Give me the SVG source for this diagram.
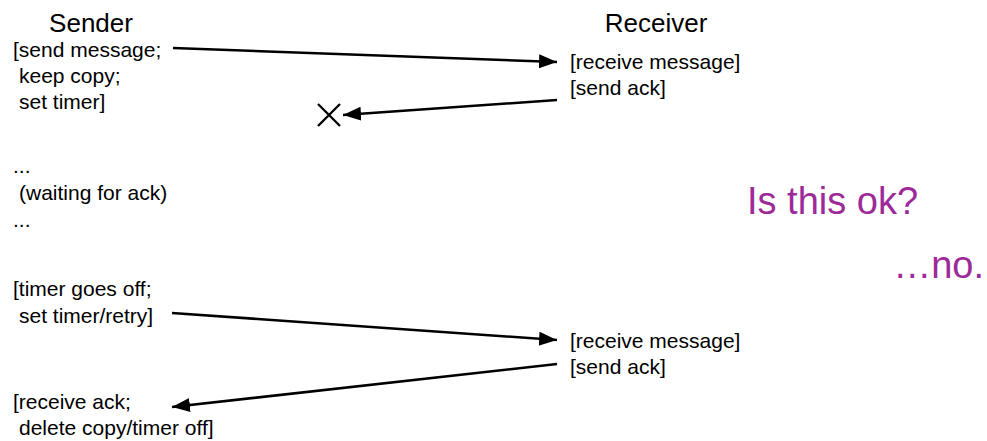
<svg xmlns="http://www.w3.org/2000/svg" width="987" height="441" viewBox="0 0 987 441">
<style>
text { font-family: "Liberation Sans", Arial, Helvetica, sans-serif; fill: #000; }
.title { font-size: 26px; text-anchor: middle; }
.body { font-size: 21px; }
.note { font-size: 38px; fill: #9C2A98; }
.conn { stroke: #000; stroke-width: 2.6; fill: none; }
</style>
<defs>
<marker id="arrow" markerUnits="userSpaceOnUse" markerWidth="19" markerHeight="15" refX="18" refY="7" orient="auto">
<path d="M0,0 L18,7 L0,14 Z" fill="#000"/>
</marker>
</defs>
<rect width="987" height="441" fill="#fff"/>
<g id="sender-title"><text class="title" x="91" y="32">Sender</text></g>
<g id="receiver-title"><text class="title" x="656" y="32">Receiver</text></g>
<g id="send1">
<text class="body" x="13" y="57">[send message;</text>
<text class="body" x="19" y="83">keep copy;</text>
<text class="body" x="19" y="109">set timer]</text>
</g>
<g id="recv1">
<text class="body" x="570" y="69">[receive message]</text>
<text class="body" x="570" y="95">[send ack]</text>
</g>
<g id="lost">
<path d="M318,104 L340,126 M340,104 L318,126" stroke="#000" stroke-width="2.3" fill="none"/>
</g>
<g id="waiting">
<text class="body" x="13" y="173">...</text>
<text class="body" x="19" y="200">(waiting for ack)</text>
<text class="body" x="13" y="227">...</text>
</g>
<g id="question">
<text class="note" x="747" y="214">Is this ok?</text>
<text class="note" x="984" y="278" text-anchor="end">…no.</text>
</g>
<g id="send2">
<text class="body" x="13" y="296">[timer goes off;</text>
<text class="body" x="19" y="323">set timer/retry]</text>
</g>
<g id="recv2">
<text class="body" x="570" y="348">[receive message]</text>
<text class="body" x="570" y="374">[send ack]</text>
</g>
<g id="ack2">
<text class="body" x="13" y="409">[receive ack;</text>
<text class="body" x="19" y="435">delete copy/timer off]</text>
</g>
<g id="connectors">
<line class="conn" x1="173" y1="48" x2="557" y2="62" marker-end="url(#arrow)"/>
<line class="conn" x1="557" y1="100" x2="343" y2="115" marker-end="url(#arrow)"/>
<line class="conn" x1="172" y1="313" x2="557" y2="340" marker-end="url(#arrow)"/>
<line class="conn" x1="557" y1="364" x2="172" y2="407" marker-end="url(#arrow)"/>
</g>
</svg>
